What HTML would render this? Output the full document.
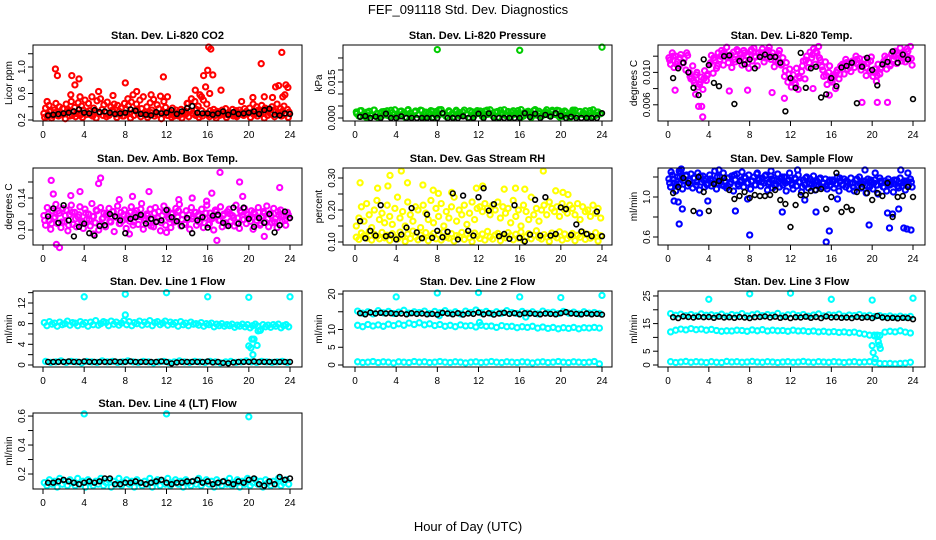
<!DOCTYPE html>
<html><head><meta charset="utf-8">
<style>
html,body{margin:0;padding:0;background:#fff;}
svg{display:block;font-family:"Liberation Sans",Arial,sans-serif;}
</style></head>
<body>
<svg id="chart" width="936" height="540" viewBox="0 0 936 540" xmlns="http://www.w3.org/2000/svg">
<text x="468" y="14" text-anchor="middle" font-size="13">FEF_091118  Std. Dev. Diagnostics</text>
<text x="468" y="531" text-anchor="middle" font-size="13">Hour of Day (UTC)</text>
<g id="panels"></g>
</svg>
<script>
const xTicks = [0,4,8,12,16,20,24];

// ---- CO2 ----
const co2Red = [.30,.38,.25,.42,.33,.27,.35,.45,.28,.40,.31,.37,.29,.44,.36,.26,.48,.33,.39,.30,.46,.27,.41,.35,.50,.32,.45,.28,.55,.38,.34,.49,.30,.52,.36,.43,.31,.47,.27,.40,.35,.44,.29,.42,.33,.38,.26,.45,.36,.52,.30,.47,.58,.34,.44,.29,.50,.37,.55,.32,.40,.28,.46,.35,.51,.30,.43,.37,.56,.31,.48,.39,.27,.33,.30,.38,.26,.35,.31,.28,.36,.29,.34,.30,.45,.33,.52,.29,.48,.36,.41,.58,.34,.50,.30,.44,.28,.34,.30,.36,.27,.33,.31,.29,.35,.30,.37,.28,.32,.28,.36,.30,.34,.27,.35,.31,.29,.37,.33,.30,.38,.31,.44,.29,.40,.35,.33,.42,.30,.38,.36,.34,.30,.40,.35,.32,.44,.29,.37,.33,.41,.30,.36,.32];
const co2Red2 = [.24,.28,.23,.31,.26,.29,.22,.33,.27,.25,.30,.24,.28,.34,.26,.23,.31,.27,.25,.29,.32,.24,.28,.26,.30,.23,.27,.35,.25,.29,.24,.31,.26,.28,.22,.30,.27,.24,.29,.26,.23,.28,.25,.30,.27,.24,.26,.29,.25,.31,.23,.27,.28,.24,.30,.26,.25,.29,.27,.32,.24,.28,.26,.30,.23,.27,.29,.25,.31,.26,.28,.24];
const co2OutHours = [0.4,1.2,1.4,2.8,3.1,3.5,2.7,3.6,5.4,6.8,8,8.3,9.1,10.5,11.7,12.1,14,15.6,15.8,16.1,16.3,16.0,16.5,16.2,17.3,19.3,20.4,21.2,21.5,22.3,22.6,22.9,23.3,23.6,23.8,23.5,23.2,15.4,14.8];
const co2OutVals = [0.48,0.97,0.87,0.87,0.73,0.82,0.58,0.55,0.63,0.57,0.76,0.42,0.63,0.58,0.85,0.55,0.45,0.87,0.7,1.3,1.27,0.95,0.88,0.6,0.65,0.48,0.54,1.05,0.55,0.54,0.7,0.72,0.55,0.73,0.69,0.58,1.22,0.55,0.65];
const co2Black = [.27,.28,.29,.30,.31,.33,.36,.31,.30,.35,.32,.33,.31,.29,.30,.31,.36,.34,.29,.28,.27,.32,.30,.31,.35,.29,.33,.38,.41,.31,.30,.30,.28,.30,.33,.28,.32,.29,.30,.31,.33,.29,.35,.37,.28,.27,.30,.29];

// ---- Pressure ----
const presGreen = [0.0025,0.0008,0.0031,0.0015,0.0002,0.0028,0.0011,0.0033,0.0019,0.0005,0.0026,0.0013,0.0030,0.0007,0.0022,0.0034,0.0010,0.0027,0.0016,0.0003,0.0032,0.0020,0.0009,0.0029,0.0014,0.0033,0.0006,0.0024,0.0018,0.0031,0.0002,0.0027,0.0012,0.0035,0.0021,0.0008,0.0030,0.0016,0.0004,0.0028,0.0023,0.0010,0.0033,0.0017,0.0001,0.0026,0.0013,0.0031,0.0020,0.0006,0.0029,0.0015,0.0034,0.0009,0.0024,0.0003,0.0032,0.0018,0.0011,0.0027,0.0005,0.0030,0.0021,0.0014,0.0035,0.0008,0.0025,0.0017,0.0002,0.0031,0.0012,0.0028,0.0007,0.0022,0.0034,0.0010,0.0026,0.0016,0.0032,0.0004,0.0019,0.0029,0.0013,0.0001,0.0024,0.0033,0.0009,0.0027,0.0015,0.0030,0.0006,0.0021,0.0034,0.0011,0.0025,0.0018];
const presGreen2 = [0.0018,0.0030,0.0008,0.0024,0.0013,0.0033,0.0004,0.0021,0.0027,0.0011,0.0032,0.0016,0.0006,0.0029,0.0020,0.0035,0.0009,0.0025,0.0014,0.0031,0.0003,0.0023,0.0028,0.0012,0.0034,0.0017,0.0007,0.0026,0.0019,0.0032,0.0010,0.0024,0.0015,0.0030,0.0005,0.0022,0.0029,0.0013,0.0033,0.0018,0.0008,0.0027,0.0021,0.0034,0.0011,0.0025,0.0016,0.0031,0.0004,0.0023,0.0028,0.0012,0.0035,0.0019,0.0009,0.0026,0.0020,0.0032,0.0014,0.0030,0.0007,0.0024,0.0017,0.0033,0.0010,0.0027,0.0022,0.0015,0.0031,0.0006,0.0025,0.0018];
const presOutHours = [8,16,24];
const presOutVals = [0.0285,0.0282,0.0295];
const presBlack = [0.0005,0.0008,0,0.0006,0,0.0018,0,0,0.0007,0,0,0,0,0,0,0,0.0020,0,0,0,0.0007,0,0,0.0018,0,0.0019,0,0,0,0,0,0,0.0020,0.0004,0.0018,0,0.0013,0.0006,0.0020,0.0009,0,0.0005,0,0,0,0,0,0.0020];

// ---- Li-820 Temp ----
const tempMag = [.0118,.0110,.0124,.0106,.0120,.0113,.0108,.0122,.0112,.0117,.0103,.0121,.0100,.0092,.0108,.0087,.0097,.0082,.0085,.0094,.0079,.0102,.0090,.0098,.0110,.0121,.0099,.0115,.0105,.0124,.0116,.0127,.0109,.0122,.0131,.0112,.0119,.0106,.0125,.0113,.0128,.0117,.0122,.0109,.0127,.0115,.0120,.0105,.0126,.0114,.0130,.0119,.0108,.0124,.0121,.0129,.0113,.0125,.0118,.0131,.0116,.0124,.0107,.0120,.0112,.0127,.0109,.0118,.0095,.0112,.0088,.0104,.0082,.0097,.0087,.0105,.0079,.0093,.0101,.0114,.0092,.0120,.0106,.0125,.0118,.0129,.0110,.0124,.0132,.0115,.0107,.0095,.0113,.0085,.0100,.0090,.0088,.0097,.0080,.0103,.0092,.0108,.0110,.0098,.0116,.0104,.0112,.0101,.0114,.0106,.0120,.0110,.0117,.0103,.0108,.0116,.0096,.0112,.0102,.0119,.0095,.0104,.0089,.0110,.0098,.0106,.0112,.0120,.0104,.0117,.0108,.0123,.0116,.0126,.0111,.0121,.0130,.0114,.0124,.0113,.0129,.0118,.0132,.0109];
const tempMag2 = [.0115,.0120,.0110,.0118,.0112,.0124,.0095,.0090,.0100,.0088,.0092,.0096,.0112,.0118,.0108,.0120,.0125,.0118,.0122,.0116,.0126,.0118,.0124,.0112,.0128,.0120,.0124,.0124,.0118,.0127,.0120,.0114,.0123,.0110,.0102,.0098,.0090,.0085,.0095,.0108,.0115,.0112,.0122,.0126,.0118,.0103,.0096,.0108,.0094,.0100,.0098,.0108,.0112,.0106,.0112,.0116,.0108,.0110,.0105,.0114,.0100,.0096,.0104,.0114,.0118,.0110,.0120,.0124,.0118,.0122,.0126,.0117];
const tempOutHours = [3.0,3.3,3.4,2.7,11.4,15.8,19,20.5,21.5,0.7,7.8,10.2,6.0,14.2];
const tempOutVals = [0.0058,0.0058,0.0045,0.0073,0.0068,0.0072,0.0063,0.0063,0.0063,0.0078,0.0078,0.0075,0.0077,0.0080];
const tempBlack = [.0093,.0105,.0112,.0100,.0081,.0072,.0116,.0109,.0087,.0083,.0120,.0121,.0061,.0114,.0110,.0116,.0105,.0119,.0122,.0119,.0119,.0112,.0052,.0093,.0081,.0124,.0081,.0105,.0107,.0069,.0073,.0093,.0083,.0106,.0108,.0112,.0062,.0107,.0118,.0103,.0084,.0110,.0113,.0126,.0112,.0122,.0116,.0067];

// ---- Amb Box Temp ----
const ambMag = [.118,.106,.128,.112,.101,.124,.115,.132,.108,.121,.103,.127,.110,.125,.099,.119,.131,.107,.122,.104,.116,.129,.111,.102,.126,.113,.120,.105,.133,.117,.109,.124,.100,.128,.114,.121,.104,.119,.127,.110,.123,.098,.116,.130,.108,.122,.112,.125,.102,.118,.111,.129,.106,.121,.124,.107,.117,.133,.101,.115,.120,.109,.126,.113,.104,.128,.111,.123,.099,.118,.130,.106,.125,.114,.103,.121,.110,.127,.116,.132,.105,.119,.108,.124,.113,.101,.128,.117,.122,.106,.119,.110,.126,.103,.115,.131,.107,.121,.114,.100,.125,.118,.112,.129,.104,.120,.109,.123,.126,.111,.118,.105,.131,.115,.102,.122,.113,.127,.108,.119,.116,.124,.101,.120,.112,.128,.106,.117,.123,.110,.130,.104,.121,.109,.127,.114,.103,.119,.125,.111,.118,.106,.122,.115];
const ambMag2 = [.112,.120,.108,.116,.124,.110,.118,.106,.122,.114,.119,.109,.121,.113,.117,.125,.107,.115,.120,.111,.123,.116,.108,.119,.114,.122,.110,.117,.126,.112,.118,.105,.121,.115,.109,.123,.116,.120,.111,.124,.113,.107,.119,.114,.122,.110,.117,.121,.108,.116,.123,.112,.118,.106,.120,.115,.109,.124,.113,.119,.111,.122,.116,.108,.121,.114,.118,.110,.123,.117,.112,.119];
const ambOutHours = [0.8,1.0,1.3,1.6,2.7,3.6,5.4,5.6,7.4,8.7,10.3,12,13.2,14.5,15.9,16.4,16.9,17.2,19.1,19.4,23.0,4.9,8.4,21.5];
const ambOutVals = [0.162,0.145,0.082,0.078,0.143,0.148,0.158,0.165,0.138,0.142,0.148,0.097,0.138,0.140,0.136,0.146,0.087,0.172,0.160,0.142,0.153,0.095,0.095,0.092];
const ambBlack = [.117,.127,.109,.131,.112,.092,.104,.108,.096,.093,.105,.106,.120,.117,.112,.096,.114,.116,.119,.108,.114,.110,.112,.125,.116,.111,.105,.115,.096,.112,.116,.103,.118,.119,.109,.105,.128,.108,.128,.114,.104,.115,.109,.120,.097,.106,.123,.115];

// ---- Gas Stream RH ----
const rhLow = [.115,.108,.128,.120,.112,.133,.106,.124,.117,.110,.130,.113,.121,.105,.126,.114,.109,.131,.118,.102,.125,.111,.134,.116,.107,.122,.113,.129,.104,.119,.127,.110,.123,.106,.132,.115,.112,.126,.103,.120,.117,.130,.108,.124,.114,.101,.128,.119,.111,.125,.106,.133,.116,.109,.122,.127,.104,.118,.113,.129,.120,.107,.124,.112,.131,.105,.117,.126,.110,.121,.135,.114,.109,.123,.116,.102,.128,.119,.113,.132,.106,.125,.111,.118,.127,.104,.121,.115,.130,.108,.124,.112,.117,.129,.103,.120];
const rhHigh = [.150,.175,.210,.165,.220,.185,.145,.200,.230,.170,.190,.160,.215,.180,.155,.205,.240,.175,.195,.150,.225,.185,.165,.210,.200,.145,.215,.190,.170,.230,.160,.205,.180,.220,.150,.195,.175,.210,.240,.165,.200,.185,.215,.155,.190,.225,.170,.205,.210,.195,.220,.205,.185,.215,.200,.225,.175,.210,.190,.205,.160,.230,.180,.200,.150,.215,.195,.170,.240,.185,.205,.165,.200,.215,.185,.225,.205,.195,.210,.180,.220,.200,.190,.215,.205,.185,.220,.170,.210,.195,.200,.180,.215,.190,.205,.175];
const rhOutHours = [0.5,2.2,3.2,3.4,4.5,5.1,6.6,7.6,8.1,9.4,11.8,12.4,14.5,15.6,16.5,18.3,19.5,20.2,20.7];
const rhOutVals = [0.285,0.268,0.275,0.308,0.322,0.285,0.278,0.262,0.252,0.255,0.268,0.275,0.265,0.268,0.265,0.322,0.260,0.255,0.248];
const rhBlack = [.165,.112,.135,.120,.215,.118,.122,.108,.123,.145,.206,.130,.112,.186,.113,.135,.115,.132,.252,.108,.245,.135,.120,.240,.268,.198,.218,.118,.125,.110,.215,.113,.102,.123,.232,.120,.240,.120,.125,.208,.203,.122,.155,.133,.125,.118,.195,.118];

// ---- Sample Flow ----
const flowBlue = [1.18,1.10,1.22,1.14,1.06,1.20,1.13,1.25,1.08,1.17,1.21,1.11,1.16,1.23,1.09,1.19,1.12,1.24,1.07,1.15,1.21,1.10,1.18,1.13,1.22,1.11,1.17,1.26,1.08,1.14,1.20,1.12,1.24,1.16,1.09,1.19,1.13,1.21,1.06,1.17,1.23,1.11,1.15,1.25,1.10,1.19,1.14,1.22,1.08,1.16,1.20,1.12,1.24,1.17,1.11,1.19,1.14,1.22,1.07,1.15,1.21,1.09,1.17,1.13,1.23,1.10,1.18,1.12,1.20,1.06,1.16,1.24,1.14,1.08,1.19,1.11,1.22,1.15,1.05,1.17,1.12,1.20,1.09,1.18,1.13,1.21,1.07,1.16,1.11,1.19,1.10,1.14,1.18,1.08,1.15,1.12,1.17,1.09,1.13,1.20,1.06,1.16,1.12,1.18,1.10,1.15,1.08,1.19,1.14,1.06,1.17,1.11,1.20,1.09,1.13,1.16,1.04,1.18,1.10,1.15,1.08,1.17,1.12,1.03,1.19,1.14,1.10,1.16,1.06,1.18,1.12,1.15,1.05,1.13,1.17,1.09,1.19,1.11,1.14,1.07,1.16,1.12,1.18,1.10];
const flowBlue2 = [1.14,1.18,1.12,1.20,1.16,1.22,1.13,1.19,1.15,1.21,1.17,1.12,1.18,1.14,1.20,1.16,1.11,1.19,1.15,1.22,1.13,1.17,1.20,1.14,1.16,1.12,1.19,1.15,1.21,1.13,1.18,1.11,1.16,1.20,1.14,1.17,1.12,1.18,1.15,1.10,1.19,1.13,1.16,1.12,1.18,1.14,1.11,1.17,1.15,1.13,1.19,1.12,1.16,1.14,1.10,1.18,1.13,1.15,1.11,1.17,1.14,1.12,1.16,1.10,1.15,1.13,1.17,1.11,1.14,1.16,1.12,1.15];
const flowOutHours = [0.3,1.1,1.3,0.6,1.0,1.4,1.1,3.1,3.9,5.0,6.6,7.8,8.0,8.7,10.1,11.2,12.7,13.4,14.5,15.5,15.8,16.6,19.3,19.7,20.3,21.5,21.7,22.6,22.8,23.1,23.4,23.8,23.5,22.0];
const flowOutVals = [1.25,1.26,1.28,0.96,0.95,0.88,0.73,0.84,0.96,1.27,0.86,0.98,0.62,1.23,1.26,0.85,1.27,0.97,0.85,0.55,0.66,0.98,1.27,0.72,1.24,0.84,0.69,0.88,1.27,0.69,0.68,0.67,1.24,0.83];
const flowBlack = [1.04,1.10,1.19,1.14,0.86,1.20,1.05,0.86,1.13,1.16,1.19,1.07,0.98,1.01,1.05,0.99,1.02,1.01,1.01,1.02,1.07,0.97,0.93,0.70,0.92,1.02,1.02,1.06,1.07,1.08,0.88,1.00,1.24,0.85,0.90,0.87,1.05,1.10,1.04,0.97,1.04,1.01,1.14,0.80,1.00,1.01,1.10,1.00];

// ---- Line 1 ----
const l1High = [8.2,7.6,8.4,7.9,8.1,7.5,8.3,7.8,8.0,8.5,7.7,8.2,8.1,7.6,8.4,7.9,8.2,7.5,8.3,7.8,8.6,7.7,8.0,8.4,8.2,7.6,8.5,7.9,8.3,7.7,8.1,8.6,7.8,8.4,7.6,8.2,8.0,8.5,7.7,8.3,7.9,8.6,7.6,8.2,8.4,7.8,8.1,8.5,7.7,8.3,7.9,8.2,7.5,8.4,7.8,8.1,7.6,8.3,7.9,8.0,7.7,8.2,7.5,8.0,7.8,8.1,7.4,7.9,7.6,8.0,7.5,7.8,7.6,7.9,7.3,7.7,7.5,7.9,7.4,7.8,7.2,7.6,7.9,7.5,6.8,7.8,7.4,7.7,7.3,7.8,7.5,7.9,7.2,7.6,7.8,7.4];
const l1Low = [0.7,0.5,0.6,0.8,0.5,0.7,0.6,0.4,0.7,0.6,0.5,0.8,0.6,0.7,0.5,0.6,0.8,0.6,0.5,0.7,0.6,0.4,0.6,0.7,0.5,0.6,0.8,0.6,0.5,0.7,0.6,0.5,0.7,0.6,0.4,0.6,0.7,0.5,0.6,0.8,0.6,0.5,0.7,0.6,0.5,0.6,0.7,0.5];
const l1OutHours = [4,8,12,16,20,24,8,20.0,20.2,20.3,20.5,20.4,20.8,20.9,21.1];
const l1OutVals = [13.2,13.7,14.0,13.2,13.1,13.2,9.7,3.7,3.3,5.0,5.0,2.0,3.8,6.6,6.7];
const l1Black = [0.6,0.6,0.6,0.6,0.7,0.6,0.6,0.7,0.6,0.6,0.6,0.6,0.6,0.7,0.6,0.6,0.7,0.6,0.6,0.6,0.6,0.6,0.7,0.6,0.3,0.5,0.6,0.6,0.6,0.6,0.6,0.7,0.5,0.6,0.4,0.3,0.5,0.6,0.6,0.6,0.7,0.6,0.6,0.6,0.6,0.6,0.6,0.6];

// ---- Line 2 ----
const l2Top = [15.2,14.6,15.0,14.4,15.3,14.7,15.1,14.5,14.9,15.4,14.6,15.0,14.8,15.2,14.5,15.1,14.7,15.3,14.6,15.0,14.4,15.2,14.8,15.5,14.7,15.1,14.5,15.0,14.6,15.3,14.8,14.5,15.1,14.6,15.0,14.4,15.2,14.7,14.9,14.5,15.1,14.6,14.9,14.4,15.0,14.6,14.8,14.5];
const l2Mid = [11.2,10.8,11.4,11.0,11.3,10.9,11.5,11.1,11.6,11.2,11.8,11.4,11.9,11.3,11.6,11.1,11.4,10.9,11.2,10.8,11.3,11.0,11.1,10.7,11.2,10.9,11.0,10.6,11.1,10.8,10.9,10.5,10.8,10.6,10.9,10.4,10.7,10.3,10.6,10.2,10.5,10.3,10.6,10.2,10.5,10.4,10.6,10.4];
const l2Low = [0.9,0.7,0.8,1.0,0.7,0.9,0.8,0.6,0.9,0.8,0.7,1.0,0.8,0.9,0.7,0.8,1.0,0.8,0.7,0.9,0.8,0.6,0.8,0.9,0.7,0.8,1.0,0.8,0.7,0.9,0.8,0.7,0.9,0.8,0.6,0.8,0.9,0.7,0.8,1.0,0.8,0.7,0.9,0.8,0.7,0.8,1.0,0.3];
const l2OutHours = [4,8,12,16,20,24,12.1,8.2,16.6];
const l2OutVals = [19.2,20.3,20.4,19.2,19.0,19.6,12.0,13.9,13.5];
const l2Black = [14.6,14.3,14.8,14.5,14.7,14.5,14.6,14.4,14.5,14.3,14.6,14.4,14.5,14.3,14.4,14.2,14.7,14.5,14.3,14.6,14.2,14.5,14.4,14.8,14.3,14.6,14.2,14.5,14.7,14.4,14.6,14.3,14.6,14.5,14.4,14.3,14.5,14.4,14.3,14.6,14.9,14.5,14.4,14.3,14.5,14.3,14.4,14.2];

// ---- Line 3 ----
const l3Top = [18.6,18.0,18.4,17.9,18.3,17.8,18.5,18.0,18.2,17.9,18.4,17.7,18.3,18.0,18.6,17.8,18.2,18.5,17.9,18.3,18.0,18.7,17.8,18.2,18.4,17.9,18.3,17.7,18.1,18.5,17.8,18.2,18.0,18.4,17.7,18.1,17.9,18.3,17.8,18.0,17.6,17.9,17.5,17.8,17.4,17.7,17.3,17.6];
const l3Mid = [12.0,12.6,13.0,12.7,13.2,12.8,13.0,12.6,12.9,12.5,12.2,12.4,12.3,12.6,12.5,12.2,12.7,12.4,12.8,12.3,12.6,12.4,12.5,12.2,12.6,12.3,12.4,12.1,12.3,12.0,12.2,11.9,12.1,11.8,12.0,11.7,11.9,11.5,11.2,10.8,10.5,10.7,11.9,12.2,12.0,12.4,11.9,11.6];
const l3Low = [1.2,0.9,1.1,1.3,1.0,1.2,1.1,0.9,1.2,1.0,0.9,1.3,1.1,1.2,1.0,1.1,1.3,1.1,1.0,1.2,1.1,0.9,1.1,1.2,1.0,1.1,1.3,1.1,1.0,1.2,1.1,1.0,1.2,1.1,0.9,1.1,1.2,1.0,1.1,1.2,1.0,0.6,0.5,0.6,0.4,0.6,0.7,1.0];
const l3OutHours = [4,8,12,16,20,24,20.0,20.1,20.3,20.6,20.7,20.8,20.2,20.5];
const l3OutVals = [23.8,25.8,26.0,23.8,23.5,24.2,7.0,4.5,2.3,8.5,7.2,6.0,10.8,10.8];
const l3Black = [17.3,17.0,17.6,17.4,17.2,17.5,17.3,17.4,17.1,17.5,17.2,17.3,17.1,17.4,17.2,17.0,17.3,17.4,17.6,17.2,17.5,17.1,17.4,17.0,17.3,17.2,17.5,17.1,17.4,17.0,17.6,17.2,17.3,17.1,17.2,17.0,17.4,17.1,17.3,17.0,17.8,17.2,17.0,17.1,16.9,17.1,17.0,16.6];

// ---- Line 4 ----
const l4Cyan = [0.14,0.12,0.16,0.13,0.15,0.11,0.17,0.13,0.15,0.12,0.16,0.14,0.12,0.17,0.13,0.15,0.11,0.16,0.14,0.12,0.15,0.13,0.17,0.12,0.14,0.16,0.11,0.15,0.13,0.17,0.12,0.14,0.16,0.13,0.15,0.11,0.16,0.14,0.12,0.15,0.13,0.17,0.11,0.14,0.16,0.12,0.15,0.13,0.17,0.12,0.14,0.16,0.13,0.15,0.11,0.16,0.14,0.12,0.15,0.13,0.17,0.12,0.14,0.16,0.13,0.15,0.11,0.16,0.14,0.12,0.15,0.13,0.17,0.12,0.14,0.16,0.11,0.15,0.13,0.17,0.12,0.14,0.16,0.13,0.15,0.11,0.16,0.14,0.12,0.15,0.13,0.17,0.12,0.14,0.16,0.13];
const l4OutHours = [4,12,20];
const l4OutVals = [0.615,0.615,0.595];
const l4Black = [0.14,0.14,0.15,0.16,0.15,0.14,0.13,0.14,0.15,0.14,0.15,0.17,0.17,0.13,0.13,0.14,0.14,0.15,0.14,0.13,0.14,0.15,0.16,0.14,0.13,0.14,0.14,0.15,0.15,0.16,0.14,0.15,0.13,0.14,0.15,0.14,0.13,0.15,0.14,0.16,0.17,0.13,0.12,0.15,0.13,0.18,0.16,0.17];

const cols = [{l:33,r:302,x0:43,x1:290},{l:343,r:612,x0:355,x1:602},{l:658,r:925,x0:668,x1:913}];
const rows = [{t:45,b:121},{t:168,b:245},{t:291,b:367},{t:413,b:489}];

const panels = [
 {name:'co2',title:'Stan. Dev. Li-820 CO2',ylab:'Licor ppm',c:0,r:0,dom:[0.185,1.332],ticks:[0.2,0.4,0.6,0.8,1.0,1.2],labels:['0.2','','0.6','','1.0',''],
  series:[{v:co2Red,col:'#ff0000'},{v:co2Red2,col:'#ff0000'},{h:co2OutHours,v:co2OutVals,col:'#ff0000'},{v:co2Black,col:'#000',black:true}]},
 {name:'pressure',title:'Stan. Dev. Li-820 Pressure',ylab:'kPa',c:1,r:0,dom:[-0.00125,0.0304],ticks:[0,0.005,0.010,0.015,0.020,0.025],labels:['0.000','','','0.015','',''],
  series:[{v:presGreen,col:'#00cc00'},{v:presGreen2,col:'#00cc00'},{h:presOutHours,v:presOutVals,col:'#00cc00'},{v:presBlack,col:'#000',black:true}]},
 {name:'temp',title:'Stan. Dev. Li-820 Temp.',ylab:'degrees C',c:2,r:0,dom:[0.004,0.01338],ticks:[0.006,0.008,0.010,0.012],labels:['0.006','','0.010',''],
  series:[{v:tempMag,col:'#ff00ff'},{v:tempMag2,col:'#ff00ff'},{h:tempOutHours,v:tempOutVals,col:'#ff00ff'},{v:tempBlack,col:'#000',black:true}]},
 {name:'amb-temp',title:'Stan. Dev. Amb. Box Temp.',ylab:'degrees C',c:0,r:1,dom:[0.08125,0.1775],ticks:[0.10,0.12,0.14,0.16],labels:['0.10','','0.14',''],
  series:[{v:ambMag,col:'#ff00ff'},{v:ambMag2,col:'#ff00ff'},{h:ambOutHours,v:ambOutVals,col:'#ff00ff'},{v:ambBlack,col:'#000',black:true}]},
 {name:'rh',title:'Stan. Dev. Gas Stream RH',ylab:'percent',c:1,r:1,dom:[0.0906,0.33125],ticks:[0.10,0.15,0.20,0.25,0.30],labels:['0.10','','0.20','','0.30'],
  series:[{v:rhLow,col:'#ffff00'},{v:rhHigh,col:'#ffff00'},{h:rhOutHours,v:rhOutVals,col:'#ffff00'},{v:rhBlack,col:'#000',black:true}]},
 {name:'sample-flow',title:'Stan. Dev. Sample Flow',ylab:'ml/min',c:2,r:1,dom:[0.52,1.29],ticks:[0.6,0.8,1.0,1.2],labels:['0.6','','1.0',''],
  series:[{v:flowBlue,col:'#0000ff'},{v:flowBlue2,col:'#0000ff'},{h:flowOutHours,v:flowOutVals,col:'#0000ff'},{v:flowBlack,col:'#000',black:true}]},
 {name:'line1',title:'Stan. Dev. Line 1 Flow',ylab:'ml/min',c:0,r:2,dom:[-0.39,14.32],ticks:[0,2,4,6,8,10,12,14],labels:['0','','4','','8','','12',''],
  series:[{v:l1High,col:'#00ffff'},{v:l1Low,col:'#00ffff'},{h:l1OutHours,v:l1OutVals,col:'#00ffff'},{v:l1Black,col:'#000',black:true}]},
 {name:'line2',title:'Stan. Dev. Line 2 Flow',ylab:'ml/min',c:1,r:2,dom:[-0.56,20.85],ticks:[0,5,10,15,20],labels:['0','5','10','','20'],
  series:[{v:l2Top,col:'#00ffff'},{v:l2Mid,col:'#00ffff'},{v:l2Low,col:'#00ffff'},{h:l2OutHours,v:l2OutVals,col:'#00ffff'},{v:l2Black,col:'#000',black:true}]},
 {name:'line3',title:'Stan. Dev. Line 3 Flow',ylab:'ml/min',c:2,r:2,dom:[-0.72,26.8],ticks:[0,5,10,15,20,25],labels:['0','5','','15','','25'],
  series:[{v:l3Top,col:'#00ffff'},{v:l3Mid,col:'#00ffff'},{v:l3Low,col:'#00ffff'},{h:l3OutHours,v:l3OutVals,col:'#00ffff'},{v:l3Black,col:'#000',black:true}]},
 {name:'line4',title:'Stan. Dev. Line 4 (LT) Flow',ylab:'ml/min',c:0,r:3,dom:[0.0966,0.621],ticks:[0.2,0.3,0.4,0.5,0.6],labels:['0.2','','0.4','','0.6'],
  series:[{v:l4Cyan,col:'#00ffff'},{h:l4OutHours,v:l4OutVals,col:'#00ffff'},{v:l4Black,col:'#000',black:true}]}
];

const NS='http://www.w3.org/2000/svg';
function mk(tag, attrs, parent){const e=document.createElementNS(NS,tag);for(const k in attrs)e.setAttribute(k,attrs[k]);parent.appendChild(e);return e;}
const root=document.getElementById('panels');

panels.forEach(p=>{
  const C=cols[p.c], R=rows[p.r];
  const sx=h=>C.x0+h/24*(C.x1-C.x0);
  const sy=v=>R.b-(v-p.dom[0])/(p.dom[1]-p.dom[0])*(R.b-R.t);
  const g=mk('g',{},root);
  
  
  const title=mk('text',{x:(C.l+C.r)/2,y:R.t-6,'text-anchor':'middle','font-size':11,'font-weight':'bold'},g);
  title.textContent=p.title;
  
  
  const pg=mk('g',{fill:'none'},g);
  
  
  p.series.forEach(s=>{
    const n=s.v.length;
    s.v.forEach((val,i)=>{
      const h = s.h ? s.h[i] : (s.black ? (i+1)*24/n : (i+0.5)*24/n);
      const c=mk('circle',{cx:sx(h).toFixed(1),cy:sy(val).toFixed(1),r:s.black?2.4:2.6,stroke:s.col,'stroke-width':s.black?1.6:2.1},pg);
      
      
    });
  });
  const box=mk('rect',{x:C.l,y:R.t,width:C.r-C.l,height:R.b-R.t,fill:'none',stroke:'#000','stroke-width':1},g);
  
  
  const xa=mk('g',{},g);
  
  
  xTicks.forEach(t=>{
    mk('line',{x1:sx(t),x2:sx(t),y1:R.b,y2:R.b+5,stroke:'#000'},xa);
    const tx=mk('text',{x:sx(t),y:R.b+17,'text-anchor':'middle','font-size':10},xa);
    tx.textContent=t;
    
    
  });
  const ya=mk('g',{},g);
  
  
  p.ticks.forEach((t,i)=>{
    const y=sy(t);
    mk('line',{x1:C.l-5,x2:C.l,y1:y,y2:y,stroke:'#000'},ya);
    if(p.labels[i]){
      const tx=mk('text',{x:C.l-8,y:y,'text-anchor':'middle','font-size':10,transform:`rotate(-90 ${C.l-8} ${y})`},ya);
      tx.textContent=p.labels[i];
      
      
    }
  });
  const yl=mk('text',{x:C.l-21,y:(R.t+R.b)/2,'text-anchor':'middle','font-size':10,transform:`rotate(-90 ${C.l-21} ${(R.t+R.b)/2})`},g);
  yl.textContent=p.ylab;
  
  
});
</script>
</body></html>
